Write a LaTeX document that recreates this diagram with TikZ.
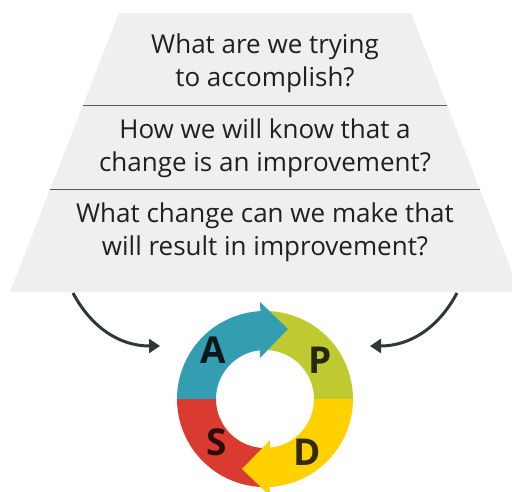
\documentclass[tikz,border=0pt]{standalone}
\usepackage{fontspec}
\setmainfont{Open Sans}
\usetikzlibrary{arrows.meta}
\definecolor{boxgray}{HTML}{EFEFEF}
\definecolor{rulegray}{HTML}{5A5A5A}
\definecolor{textdark}{HTML}{231F20}
\definecolor{arrowdark}{HTML}{2E3838}
\definecolor{ateal}{HTML}{339EB2}
\definecolor{pgreen}{HTML}{BFCA31}
\definecolor{dyellow}{HTML}{FFD100}
\definecolor{sred}{HTML}{DA3B31}

\begin{document}
\begin{tikzpicture}[x=1pt,y=1pt,
    question/.style={font=\fontsize{26}{33}\selectfont, align=center, text=textdark},
    pdsa/.style={font=\fontsize{37}{37}\bfseries\selectfont, inner sep=0pt},
    feedarrow/.style={draw=arrowdark, line width=3pt, -{Triangle[length=11pt,width=14pt]}}]
  \useasboundingbox (0,0) rectangle (512,-491);
  \fill[boxgray] (119,-13) -- (411,-13) -- (520,-292) -- (10,-292) -- cycle;
  \draw[rulegray, line width=0.8pt] (83,-105) -- (447,-105);
  \draw[rulegray, line width=0.8pt] (50,-189) -- (480,-189);
  \node[question] (q1) at (265,-63) {What are we trying\\to accomplish?};
  \node[question] (q2) at (265,-148) {How we will know that a\\change is an improvement?};
  \node[question] (q3) at (265,-232) {What change can we make that\\will result in improvement?};
  \begin{scope}[shift={(265,-399)}]
    \coordinate (cyc) at (0,0);
    \fill[pgreen] (0:88) arc(0:95:88) -- (95:49) arc(95:0:49) -- cycle;
    \fill[sred] (180:88) arc(180:275:88) -- (275:49) arc(275:180:49) -- cycle;
    \fill[ateal] (180:88) arc(180:93:88) -- (-5,97) -- (23,70) -- (-5,41) -- (96:49) arc(96:180:49) -- cycle;
    \fill[dyellow] (0:88) arc(0:-87:88) -- (5,-97) -- (-23,-70) -- (5,-41) -- (-84:49) arc(-84:0:49) -- cycle;
    \node[pdsa, text=ateal!15!black] (nA) at (-52,49) {A};
    \node[pdsa, text=pgreen!20!black] (nP) at (55,39) {P};
    \node[pdsa, text=sred!20!black] (nS) at (-48,-43) {S};
    \node[pdsa, text=dyellow!20!black] (nD) at (42,-53) {D};
  \end{scope}
  \coordinate (lstart) at (73,-293);
  \coordinate (lend) at (160,-346);
  \coordinate (rstart) at (457,-293);
  \coordinate (rend) at (370,-346);
  \draw[feedarrow] (lstart) to[out=-62, in=180] (lend);
  \draw[feedarrow] (rstart) to[out=-118, in=0] (rend);
\end{tikzpicture}
\end{document}
